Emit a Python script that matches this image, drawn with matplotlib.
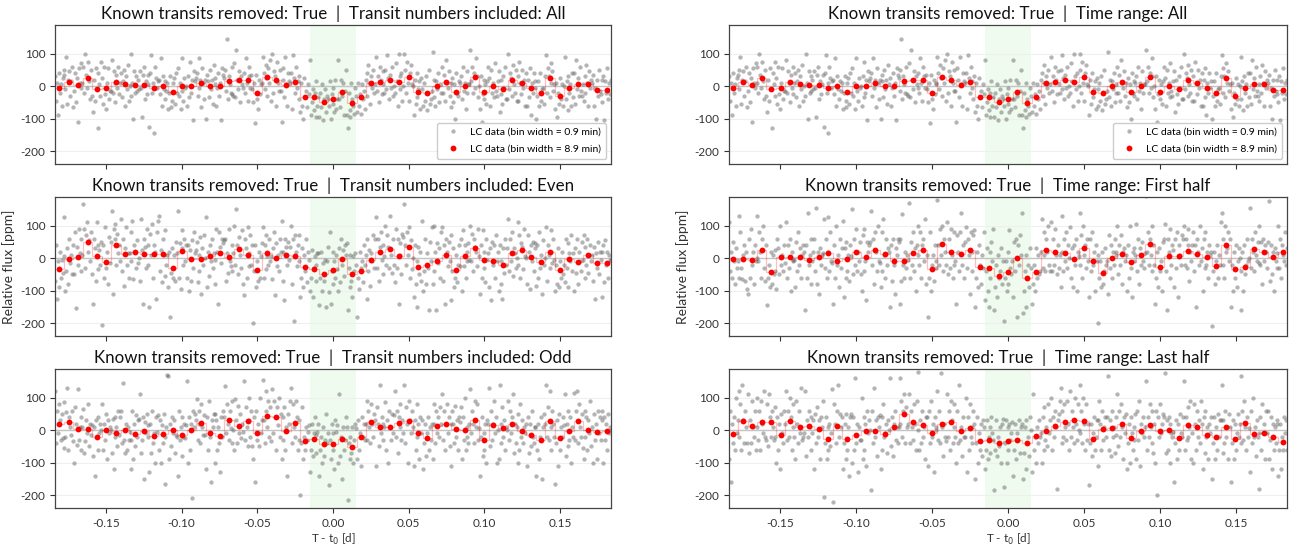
import numpy as np
import matplotlib
matplotlib.use("Agg")
import matplotlib.pyplot as plt

plt.rcParams['font.family'] = ['Lato', 'DejaVu Sans']
plt.rcParams['axes.unicode_minus'] = False

# ---- phase grid -------------------------------------------------------
N_BINS = 59
BIN_WIDTH = 0.00623          # d  (8.9 min bins)
SUB_PER_BIN = 10             # 0.9 min samples per 8.9 min bin
TRANSIT_HALF_WIDTH = 0.015   # d

# ---- panel titles -------------------------------------------------------
title_all_numbers = "Known transits removed: True  |  Transit numbers included: All"
title_even = "Known transits removed: True  |  Transit numbers included: Even"
title_odd = "Known transits removed: True  |  Transit numbers included: Odd"
title_all_time = "Known transits removed: True  |  Time range: All"
title_first = "Known transits removed: True  |  Time range: First half"
title_last = "Known transits removed: True  |  Time range: Last half"

# ---- 8.9 min binned flux [ppm] ------------------------------------------
binned_all = [-7, 12, 3, 24, -10, -7, 14, 5, 3, 3, -5, 1, -17, 1, -1, 9, -1, -1, 16, 18,
              18, -22, 28, 20, 3, 13, -34, -34, -48, -40, -17, -53, -34, 9, 14, 18, 12, 28, -17, -22,
              1, 14, -17, 1, 28, -17, 1, -9, 18, 9, -7, -22, 24, -30, -5, 7, 5, -11, -11]
binned_even = [-34, -2, 3, 50, 5, -12, 39, 13, 19, 11, 11, 13, -32, 22, -2, -2, 7, 15, 3, 27,
               9, -36, 15, 0, 9, 5, -27, -34, -50, -36, -4, -50, -40, -6, 19, 29, 5, 33, -27, -20,
               -8, 9, -36, 5, 31, -6, -10, -22, 17, 24, 3, -12, 19, -38, -4, -12, 9, -14, -16]
binned_odd = [18, 25, 4, 2, -21, 0, -9, 0, -12, -4, -19, -11, 0, -15, 0, 21, -9, -17, 31, 13,
              27, -9, 44, 40, -4, 23, -35, -29, -42, -42, -27, -53, -21, 25, 10, 8, 21, 27, -9, -25,
              13, 18, 2, 0, 31, -30, 15, 6, 18, -4, -15, -32, 29, -25, -4, 29, 0, -6, -2]
binned_first = [-2, -4, -6, 26, -43, 2, 2, 2, -6, 4, 17, -10, -4, 20, 4, 24, 11, -10, -10, 16,
                24, -34, 42, 18, 14, 24, -28, -30, -54, -43, 0, -62, -43, 26, 18, 16, -2, 30, -8, -46,
                0, 11, -12, 8, 42, -28, 6, 6, 22, 11, 2, -24, 40, -34, -26, 28, 18, 2, 20]
binned_last = [-11, 28, 12, 24, 25, -14, 28, 10, 12, 2, -26, 12, -28, -16, -2, -2, -11, 10, 48, 24,
               15, -8, 18, 24, -4, 6, -34, -32, -40, -33, -32, -40, -18, -2, 12, 24, 30, 28, -26, 4,
               6, 18, -24, -4, 17, -4, 0, -24, 15, 8, -14, -20, 8, -26, 22, -11, -9, -22, -38]

# ---- 0.9 min flux [ppm], one row of ten samples per 8.9 min bin -------------
fine_all = """
30 -45 10 -90 40 -20 5 -60 25 35
50 -10 90 -55 20 45 -30 15 60 -65
-15 40 -50 25 -110 55 10 -5 70 10
60 -20 100 35 -5 75 15 -40 50 -30
-80 20 -45 55 -10 -130 40 5 -30 75
25 -55 60 -25 -70 10 55 -40 -15 -15
80 -20 45 10 -50 35 -5 60 -25 10
40 -35 15 50 -60 30 -10 65 -45 0
-30 100 10 -100 45 -20 30 -15 20 -10
45 -5 -95 35 60 -40 15 -25 5 35
-125 40 95 -20 10 -145 60 25 -5 15
20 -25 85 -60 30 -10 -40 15 -15 10
-70 -20 30 -65 -45 10 25 -55 40 -20
55 -30 10 -70 85 -15 -45 25 -5 0
-60 30 -35 75 -20 20 -105 45 15 25
40 -30 85 -5 20 -65 55 10 -40 20
-100 35 15 -35 50 -10 20 -55 65 5
25 -60 -5 40 -30 10 -105 55 35 25
50 -15 145 -40 30 5 -20 60 -25 -30
70 -35 110 20 -10 45 -50 30 5 -5
40 -20 85 10 -45 60 30 -5 35 -10
-50 10 -115 35 -40 -70 20 -25 5 10
90 40 -10 65 25 -30 55 10 80 -45
100 -20 45 30 -60 75 10 -15 50 -15
-110 55 20 -35 90 5 -60 40 15 10
40 -70 95 25 -20 60 -5 15 -40 30
-80 10 -60 -100 25 -35 -15 -65 5 -25
80 -90 -50 -10 -75 -20 -95 15 -60 -35
-95 -20 -65 5 -105 -40 -10 -80 -30 -40
-60 15 -100 -25 -55 -5 -80 20 -70 -40
80 -40 -65 20 -30 10 -90 -15 50 -90
-130 -20 -75 -95 10 -40 -60 -85 -5 -30
-80 10 -60 -25 -85 5 -40 -15 -70 20
40 -30 65 10 -55 30 -5 50 -20 5
90 -15 30 -50 60 20 -25 45 5 -20
50 -10 95 25 -40 35 -5 60 -30 0
-20 70 15 -60 100 30 -10 40 -45 0
100 50 -20 75 10 -45 40 65 5 0
-90 20 -55 40 -35 -10 15 -70 25 -10
-60 10 -45 30 -75 -20 50 -55 -40 -15
105 -35 20 -60 15 -10 40 -50 5 -20
60 -20 35 -45 80 10 -5 45 -30 10
-65 25 -50 5 -100 40 -20 -30 15 10
30 -40 60 -15 10 -70 45 -20 5 5
110 15 60 -20 40 -5 85 30 -35 0
-70 30 -110 -25 20 -40 5 -55 15 60
25 -60 50 -20 10 -35 70 -15 -30 15
45 -80 20 -25 -55 30 -5 60 -40 -40
100 -10 40 25 -30 65 5 -20 50 -45
30 -45 75 10 -25 50 -5 20 -60 40
-60 20 -35 55 -90 10 -20 40 -5 15
-100 -30 15 -60 40 -45 -10 -5 -55 30
95 -20 55 30 -35 70 10 45 -15 5
-70 10 -95 -20 -55 25 -40 5 -60 0
90 -40 15 -75 30 -20 5 -60 40 -35
40 -55 80 -10 25 -30 60 -15 -30 5
-45 30 -20 65 10 -60 45 -5 20 10
35 -60 -5 -100 20 -30 50 -15 -25 20
-50 30 -105 15 -20 55 -40 10 -25 20
"""

fine_even = """
-70 40 -125 -10 -90 20 -60 -5 -45 5
125 -100 -40 30 -80 60 -15 10 -50 40
-50 80 -155 35 -20 90 15 -40 60 10
165 90 -30 70 110 20 55 -10 80 -50
-140 60 30 -70 110 -35 40 25 -20 50
-205 40 -60 95 -30 20 -80 65 -15 50
145 -110 90 60 105 -20 75 15 40 -10
120 -40 60 -85 30 95 -20 15 -60 15
80 -10 115 -65 40 20 -30 55 -15 0
-70 120 25 -140 60 35 -30 90 -20 40
-150 75 10 105 -60 40 20 -125 80 115
130 -40 25 -75 60 10 -55 85 -20 10
-90 20 -180 -45 30 -60 10 -70 50 15
145 -60 45 -95 85 30 -20 60 -10 40
-60 40 -100 25 -70 55 -30 80 15 25
50 -75 10 -40 65 -110 30 -20 70 0
125 -90 20 -55 40 -10 60 -30 15 -5
-80 90 20 -140 80 35 -15 60 45 55
60 -70 15 -45 90 -10 -25 40 -40 15
100 -20 150 40 -50 65 10 -30 85 -80
-115 60 30 -60 95 15 -25 70 -20 40
-200 -40 40 -90 -10 -70 20 -60 5 45
95 -60 40 -35 70 5 -20 60 -10 5
-65 30 80 -115 45 -25 10 -40 60 20
115 -70 20 -130 60 35 -20 50 -5 35
100 -80 60 -195 70 20 -25 40 -10 70
-120 -60 30 -90 10 -40 60 -75 20 -5
-100 -60 25 -120 -30 5 -70 -20 15 15
-145 -60 20 -100 -15 -70 -5 -150 -10 35
-105 80 -140 -40 20 -80 -10 -60 10 -35
-100 30 -75 60 -20 25 -55 40 10 45
-160 -30 -90 10 -70 -120 5 -40 15 -20
-180 -60 -95 20 -30 -10 -75 40 -20 10
-125 60 -40 25 -85 15 -10 70 -30 60
125 -30 60 -70 35 80 -5 40 -50 5
100 -20 70 35 -30 130 10 -45 60 -20
-75 90 -30 60 -140 45 10 -50 75 65
165 40 -20 80 10 95 -60 55 -35 0
-120 40 -80 -10 -150 35 -50 20 -70 115
-100 -40 60 -80 15 -30 -160 50 -10 95
-80 100 -40 20 -160 45 -15 30 -60 80
95 -70 40 -140 60 20 -25 50 -10 70
-130 -40 30 -90 -60 10 -75 -20 40 -25
60 -100 85 -25 40 -60 20 -10 45 -5
100 -10 75 -40 60 35 20 -25 90 5
-110 40 -60 85 -30 20 -75 60 -5 15
-90 30 -130 50 -20 40 -60 70 -10 20
-100 40 -80 -10 -125 30 -45 60 -20 30
120 -40 60 -10 80 -55 30 15 -30 0
110 -20 70 -60 45 35 -35 90 5 0
-80 70 20 -95 40 -10 50 -40 30 45
-85 40 -60 80 -30 10 -110 55 -20 0
95 -70 40 10 -30 85 20 -15 60 -5
-100 -20 -80 30 -90 -10 -60 20 -50 -20
-75 60 -30 45 -90 15 -10 70 -40 15
-100 30 -45 60 -80 20 -10 -40 50 -5
70 -60 35 -20 60 -45 10 40 -10 10
-70 35 -125 15 -30 50 -50 20 -5 20
-120 40 -75 55 -20 20 -60 10 -5 -5
"""

fine_odd = """
120 -40 60 -10 80 30 -30 50 -25 -55
85 -20 55 130 -60 40 10 -15 60 -35
-100 70 20 -45 125 -30 10 -60 40 10
65 -70 -35 30 -10 80 -50 20 -15 15
-80 10 -140 30 -20 -60 40 -10 20 0
80 -60 20 -30 50 -90 30 -10 10 0
-70 35 -120 40 -20 10 -50 60 -15 40
60 -40 145 -30 -70 20 -60 10 -30 -5
-120 -30 60 -90 20 -50 45 -20 30 35
110 -70 -30 40 -150 25 -10 50 -20 15
-130 20 -70 60 -40 -10 -100 40 -5 45
-60 30 -100 15 -40 50 -20 -165 10 170
165 -90 20 -50 40 -10 30 -70 -15 -20
-140 60 -30 10 -80 40 -20 20 -25 15
150 -100 40 -60 20 -210 60 10 50 30
95 -30 60 20 -40 80 10 -15 45 -15
-120 40 -60 90 -20 -160 30 10 50 50
-100 30 -60 10 -40 -130 40 -20 60 40
135 -10 80 20 -30 60 5 90 -40 0
-60 95 30 -40 75 -10 50 -25 20 -5
150 -30 70 10 -50 100 30 -20 60 -50
-90 40 -160 60 -30 20 -50 100 -10 30
155 30 -40 120 60 10 90 -20 70 -35
125 -10 90 40 -60 70 15 100 -20 50
-90 40 -30 70 -60 10 -140 50 20 90
130 -40 80 10 -20 90 40 -60 30 -30
-200 -40 70 -90 -20 -60 10 -30 -5 15
-130 -60 20 -80 -10 40 -70 -15 -5 20
-140 -60 -20 -100 10 -80 -30 50 -40 -10
-170 -30 -90 20 -60 -10 -120 30 -5 15
-100 110 -80 -20 -150 10 -60 -30 40 10
-215 -40 -90 -20 -70 10 -100 -30 20 5
-90 30 -60 -10 -110 40 -20 20 -30 20
90 -30 60 10 -40 80 20 -20 50 30
-110 70 20 -50 140 -10 40 -30 20 10
85 -60 30 -100 60 10 -30 50 -10 45
120 -20 60 -70 40 10 80 -30 30 -10
140 -40 70 20 -100 90 30 -10 60 10
-110 30 -60 80 -20 20 -90 40 -10 30
-120 -40 20 -80 -10 40 -60 10 -30 20
-90 80 20 -40 60 -10 40 -20 70 20
110 -30 60 -60 20 80 -10 40 -50 20
-110 60 20 -40 75 -20 30 -60 40 25
70 -90 40 -30 100 -60 10 -20 -40 20
125 -10 60 20 -40 90 10 80 -30 5
-140 -20 40 -80 -10 -60 20 -100 30 20
130 -50 60 -30 20 90 -10 40 -100 0
-90 140 20 -40 70 -20 30 -60 10 0
90 -30 60 -10 40 110 -70 20 -40 10
-100 50 -60 80 -20 30 -40 10 -10 20
-110 40 -70 20 -50 60 -20 -40 10 10
-140 -60 20 -90 -20 40 -150 10 50 20
140 -20 70 -30 120 10 -60 60 20 -20
-165 -40 30 -110 50 -60 10 -20 40 15
110 -80 20 -50 60 -30 40 -100 10 -20
115 -30 60 120 -40 80 10 -20 50 -55
-90 60 -20 40 -60 30 -10 90 -50 10
-100 50 -30 20 -90 60 -10 40 -30 30
60 -100 40 -30 20 -60 50 -10 10 0
"""

fine_first = """
110 -40 20 -60 50 -10 -80 30 -30 -10
130 -60 80 -30 -65 10 40 -70 20 -95
-110 60 -60 90 -20 20 -80 40 -10 0
130 -10 80 20 -60 60 100 -30 -70 40
-145 -60 -20 -90 20 -80 10 -50 -40 25
-95 60 30 -50 100 -20 10 -40 40 -15
110 -60 40 -30 60 -100 20 -10 -5 -5
-90 50 -40 80 -20 30 -60 10 40 20
-160 40 -60 140 -20 10 -80 60 -10 20
60 -40 155 -80 20 -110 30 -20 10 15
120 -30 60 -60 125 20 -40 80 -10 -15
-140 40 -60 100 -20 10 -90 60 -30 30
115 -120 30 -60 50 -40 10 -70 40 5
150 -50 60 -20 90 -40 20 -10 50 -50
-100 70 -40 90 -10 -130 50 20 40 50
145 -20 60 -80 80 20 -40 100 -10 -15
-90 80 -40 120 10 -60 60 -20 30 20
-150 40 -70 60 -20 -110 30 10 60 50
-140 60 -70 135 -20 -60 20 -30 10 -5
170 -60 50 -20 80 -40 30 -100 40 10
100 -20 80 -60 40 60 -10 120 -80 10
-180 -60 80 -100 -20 10 -70 40 -30 -10
180 40 -20 90 10 100 -40 60 20 -20
110 -50 60 -30 90 10 -60 80 -20 -10
-140 70 20 -40 80 140 -20 40 -60 50
95 -30 60 10 -110 80 20 -40 70 85
-150 -60 20 -90 40 -20 -80 10 -30 80
-130 -40 30 -100 -150 20 -60 50 -10 90
-160 -90 -20 -120 10 -60 -40 30 -80 -10
-195 -60 -10 -100 20 -80 85 -30 -50 -10
-120 50 -40 60 -180 40 -20 70 10 140
-170 -100 -40 -150 10 -60 -20 -90 30 -30
-140 -80 -20 -100 30 -60 10 -50 -40 20
120 -30 80 10 -40 60 20 100 -20 -40
110 -40 60 -20 90 10 -50 40 -30 10
-90 130 20 -40 60 -10 80 -30 40 0
95 -60 30 -90 40 -20 60 -100 20 5
140 -20 70 -60 100 10 40 -30 60 -10
-120 60 -40 80 -20 20 -100 40 -10 10
-200 -60 -10 -90 20 -80 -40 30 -20 -10
-110 70 -30 40 -60 20 -20 60 10 20
100 -50 40 -20 70 -80 20 30 -10 10
-100 40 -60 100 -30 -120 20 -10 30 10
105 -40 60 -80 30 -20 50 -10 -30 15
190 20 80 -20 60 10 100 -40 40 -20
-140 -60 20 -90 30 -40 -10 -100 50 60
105 -40 -160 60 20 -60 90 -20 40 25
-90 60 -30 80 -120 40 10 -20 70 60
100 -20 60 -30 90 40 -70 20 -10 40
80 -40 40 -150 60 20 -20 100 -10 30
-100 60 -30 80 -20 20 -60 40 10 20
-210 -40 20 -80 -10 40 -60 10 -20 110
140 -20 60 -60 100 20 30 80 -10 60
-150 -20 -100 20 -60 40 -90 -10 30 0
-160 -40 20 -100 40 -50 -20 60 -10 0
155 -30 60 20 -40 80 10 -10 50 -15
100 -20 50 -80 60 -10 40 20 -30 50
175 -70 40 -50 20 -100 30 -10 -30 15
100 -30 60 -60 40 10 -10 80 -20 30
"""

fine_last = """
-90 60 -160 20 -40 40 -60 100 -10 30
120 -20 80 -60 140 30 -40 60 10 -40
110 -70 30 -40 90 10 -20 60 -60 10
100 -30 60 -60 90 20 -10 120 -20 -30
80 -50 110 40 -20 60 10 -30 70 -20
-100 40 -60 20 -120 50 -10 -40 60 20
120 -30 60 -20 100 40 -60 80 10 -20
-90 90 20 -40 60 -10 130 -30 -20 -10
120 -80 30 -20 60 10 -60 40 -10 30
-120 50 -40 70 -20 30 -90 40 10 90
-205 -40 40 -90 10 -60 20 -50 -10 125
-220 80 20 -40 60 140 -20 50 10 40
-120 -40 20 -90 50 -60 10 -140 40 50
-100 40 -60 160 -40 20 -130 10 -30 -30
100 -90 40 -60 20 -110 60 -10 30 0
-185 60 -40 130 -20 30 -80 40 10 45
-120 40 -60 80 -20 -10 20 -70 30 0
160 -50 40 -80 20 60 -30 10 -40 10
160 20 90 -20 60 110 -40 70 10 20
110 -40 60 10 -30 80 20 -60 90 0
180 -60 30 -40 60 -20 10 -90 40 40
-110 60 -40 90 -20 20 -130 40 10 0
120 -30 60 -40 175 10 -80 20 -20 -35
110 -20 60 -60 90 30 -40 80 10 -20
-100 60 -40 140 -30 10 -80 40 -20 -20
100 -130 40 -60 80 -20 10 -40 60 20
-150 -40 40 -100 -10 -60 20 -80 30 10
-120 -60 30 -90 -20 10 -70 40 -10 -30
-185 -60 30 -80 -20 -50 10 -100 20 35
-175 -40 30 -100 10 -60 20 -30 -10 25
-140 -60 20 -90 -10 -30 30 -70 10 20
-150 -70 10 -120 30 -40 -20 -80 40 0
-130 110 -60 -20 -100 10 -40 30 -20 -10
-100 40 -60 70 -30 10 -50 80 -10 30
100 -60 40 -20 60 10 -180 30 50 90
130 -40 60 -20 80 10 -30 90 20 -60
120 -20 60 10 -40 100 20 -30 80 0
140 -10 60 -40 100 20 -60 80 -30 20
-170 -40 20 -80 -10 40 -60 -20 30 30
-110 90 20 -60 60 -30 10 40 -20 40
165 -60 30 -80 60 -20 10 -70 40 -15
110 -50 60 -20 80 10 -90 40 -10 50
-120 -40 20 -100 40 -10 -60 10 -30 50
-90 60 -30 90 -110 20 -10 40 -20 10
150 -60 40 -20 80 10 -40 60 -70 20
-100 60 -200 40 -20 80 -10 20 50 40
175 -70 30 -60 40 -100 20 -10 -20 -5
-160 -40 30 -90 20 -60 50 -10 -20 40
150 -60 40 -30 70 -20 10 90 -90 -10
-100 80 20 -60 60 -20 30 -40 90 20
-120 40 -70 60 -20 10 -90 20 -10 40
-150 -40 40 -90 10 -60 50 -20 30 30
140 -70 30 -40 60 -20 10 -90 50 10
-160 -40 30 -90 20 -60 -10 50 -20 20
165 -40 60 -30 90 10 -60 40 -20 5
-130 60 -40 100 -20 10 -80 30 -20 -10
-180 40 -60 80 -10 20 -90 60 -10 60
-90 -30 40 -120 20 -60 10 -40 30 20
-140 -60 20 -120 -20 -60 40 -10 30 -60
"""


def parse_rows(block):
    return np.array(block.split(), dtype=float)


bin_centers = (np.arange(N_BINS) - (N_BINS - 1) / 2) * BIN_WIDTH
sub_offsets = (np.arange(SUB_PER_BIN) - (SUB_PER_BIN - 1) / 2) * BIN_WIDTH / SUB_PER_BIN
fine_time = (bin_centers[:, None] + sub_offsets[None, :]).ravel()

panels = [
    # (row, col, title, fine flux, binned flux)
    (0, 0, title_all_numbers, parse_rows(fine_all), np.array(binned_all, float)),
    (1, 0, title_even, parse_rows(fine_even), np.array(binned_even, float)),
    (2, 0, title_odd, parse_rows(fine_odd), np.array(binned_odd, float)),
    (0, 1, title_all_time, parse_rows(fine_all), np.array(binned_all, float)),
    (1, 1, title_first, parse_rows(fine_first), np.array(binned_first, float)),
    (2, 1, title_last, parse_rows(fine_last), np.array(binned_last, float)),
]

fig = plt.figure(figsize=(12.93, 5.46), dpi=100)
W, H = 1293.0, 546.0
col_x = [(55, 611), (729, 1287)]
row_y = [(25, 164), (197, 336), (369, 508)]

for row, col, title, fine_flux, bin_flux in panels:
    x0, x1 = col_x[col]
    y0, y1 = row_y[row]
    ax = fig.add_axes([x0 / W, 1 - y1 / H, (x1 - x0) / W, (y1 - y0) / H])

    ax.axvspan(-TRANSIT_HALF_WIDTH, TRANSIT_HALF_WIDTH, color='#f0fbef', zorder=0, lw=0)
    ax.axhline(0, color='#c4c4c4', lw=1.0, zorder=1)
    ax.grid(axis='y', color='#efefef', lw=0.8, zorder=0)
    ax.set_axisbelow(True)

    ax.plot(fine_time, fine_flux, 'o', color='#6a6a6a', alpha=0.5, ms=3.1, mew=0,
            zorder=2, label='LC data (bin width = 0.9 min)')
    ax.plot(bin_centers, bin_flux, '-', drawstyle='steps-mid', color='red', alpha=0.25,
            lw=0.9, zorder=3)
    ax.plot(bin_centers, bin_flux, 'o', color='red', ms=4.2, mew=0, zorder=4,
            label='LC data (bin width = 8.9 min)')

    ax.set_xlim(-0.1835, 0.1835)
    ax.set_ylim(-240, 188)
    ax.set_xticks([-0.15, -0.10, -0.05, 0.00, 0.05, 0.10, 0.15])
    ax.set_yticks([-200, -100, 0, 100])
    ax.tick_params(labelsize=8.5, colors='#333333', length=3.5, width=0.8)
    for sp in ax.spines.values():
        sp.set_color('#444444')
        sp.set_linewidth(0.9)

    ax.set_title(title, fontsize=12.2, pad=4, color='#111111')

    if row == 2:
        ax.set_xlabel('T - t$_0$ [d]', fontsize=8.5, color='#333333', labelpad=2)
    else:
        ax.tick_params(labelbottom=False)
    if row == 1:
        ax.set_ylabel('Relative flux [ppm]', fontsize=10, color='#333333', labelpad=4)
    if row == 0:
        ax.legend(loc='lower right', fontsize=7.5, frameon=True, framealpha=1.0,
                  edgecolor='#cccccc', borderpad=0.5, handletextpad=0.6,
                  markerscale=1.0, labelspacing=0.7)

fig.savefig('out.png', dpi=100)
